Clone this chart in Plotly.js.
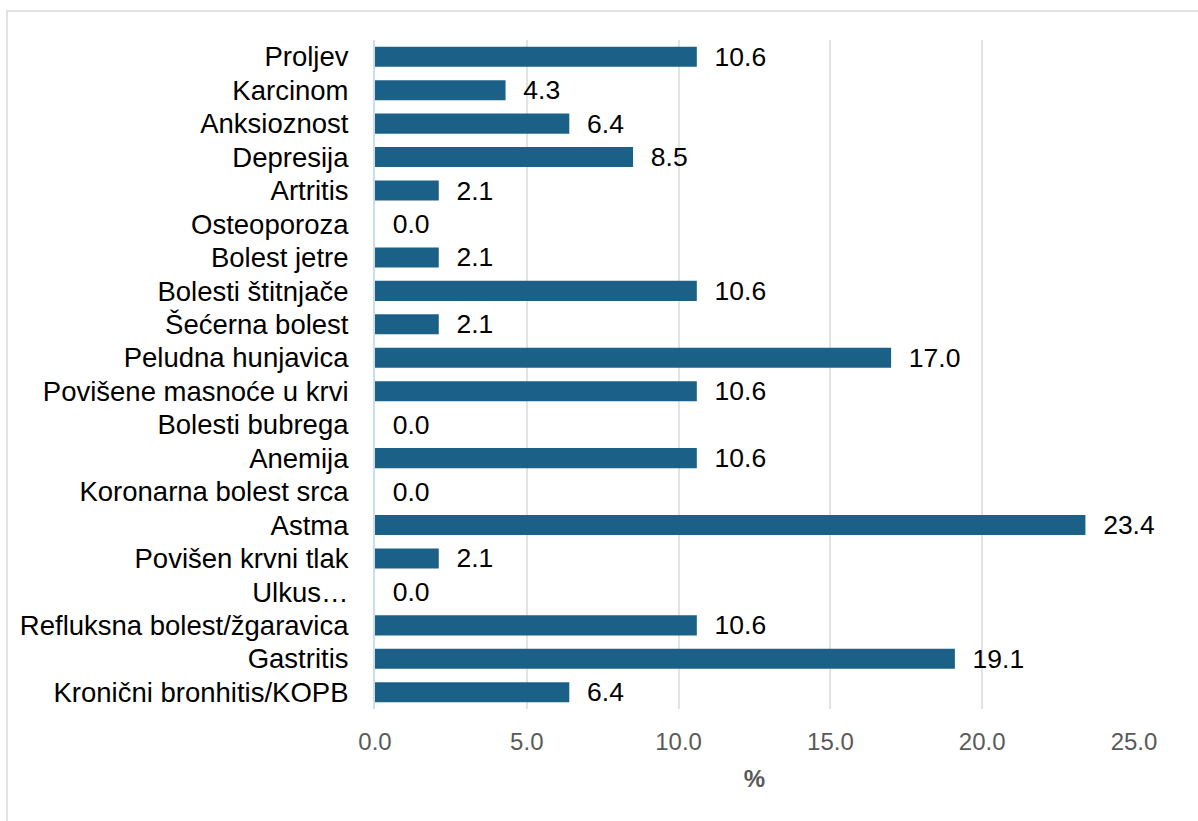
<!DOCTYPE html>
<html>
<head>
<meta charset="utf-8">
<script src="https://cdn.plot.ly/plotly-3.0.1.min.js"></script>
<style>html,body{margin:0;padding:0;background:#fff;}#chart{width:1198px;height:821px;}</style>
</head>
<body>
<div id="chart"></div>
<script>
const categories = [
  "Proljev", "Karcinom", "Anksioznost", "Depresija", "Artritis", "Osteoporoza",
  "Bolest jetre", "Bolesti štitnjače", "Šećerna bolest", "Peludna hunjavica",
  "Povišene masnoće u krvi", "Bolesti bubrega", "Anemija", "Koronarna bolest srca",
  "Astma", "Povišen krvni tlak", "Ulkus…", "Refluksna bolest/žgaravica",
  "Gastritis", "Kronični bronhitis/KOPB"
];
const values = [10.6, 4.3, 6.4, 8.5, 2.1, 0.0, 2.1, 10.6, 2.1, 17.0, 10.6, 0.0, 10.6, 0.0, 23.4, 2.1, 0.0, 10.6, 19.1, 6.4];
const xTicks = [0, 5, 10, 15, 20, 25];
const xTickLabels = ["0.0", "5.0", "10.0", "15.0", "20.0", "25.0"];
const xTitle = "%";

const FONT = "Liberation Sans, Arial, sans-serif";

const trace = {
  type: "bar",
  orientation: "h",
  y: categories,
  x: values,
  marker: {color: "#1b6187", line: {width: 0}},
  texttemplate: "\u00a0\u00a0%{x:.1f}",
  textposition: "outside",
  constraintext: "none",
  cliponaxis: false,
  textfont: {family: FONT, size: 26.5, color: "#000000"},
  hoverinfo: "none"
};

const layout = {
  width: 1198, height: 821,
  margin: {l: 375, r: 64, t: 40, b: 112},
  paper_bgcolor: "#ffffff", plot_bgcolor: "#ffffff",
  bargap: 0.4,
  showlegend: false,
  font: {family: FONT, size: 26, color: "#000"},
  xaxis: {
    range: [0, 25],
    tickvals: xTicks, ticktext: xTickLabels,
    showgrid: true, gridcolor: "#e3e3e3", gridwidth: 2,
    zeroline: false, showline: false,
    tickfont: {family: FONT, size: 24, color: "#595959"},
    ticks: "", ticklen: 0,
    ticklabelstandoff: 16,
    title: {text: "<b>" + xTitle + "</b>", font: {family: FONT, size: 24, color: "#595959"}, standoff: 16}
  },
  yaxis: {
    autorange: "reversed",
    type: "category",
    showgrid: false, zeroline: false,
    showline: true, linecolor: "#c9dcf0", linewidth: 2,
    ticks: "", ticklen: 0,
    tickfont: {family: FONT, size: 27.5, color: "#000"},
    ticklabelstandoff: 19
  },
  shapes: [{
    type: "rect", xref: "paper", yref: "paper",
    x0: -0.4848, x1: 1.2, y0: -0.3, y1: 1.0433,
    line: {color: "#e3e3e3", width: 2}, fillcolor: "rgba(0,0,0,0)", layer: "below"
  }]
};

Plotly.newPlot("chart", [trace], layout, {staticPlot: true, displayModeBar: false});
</script>
</body>
</html>
